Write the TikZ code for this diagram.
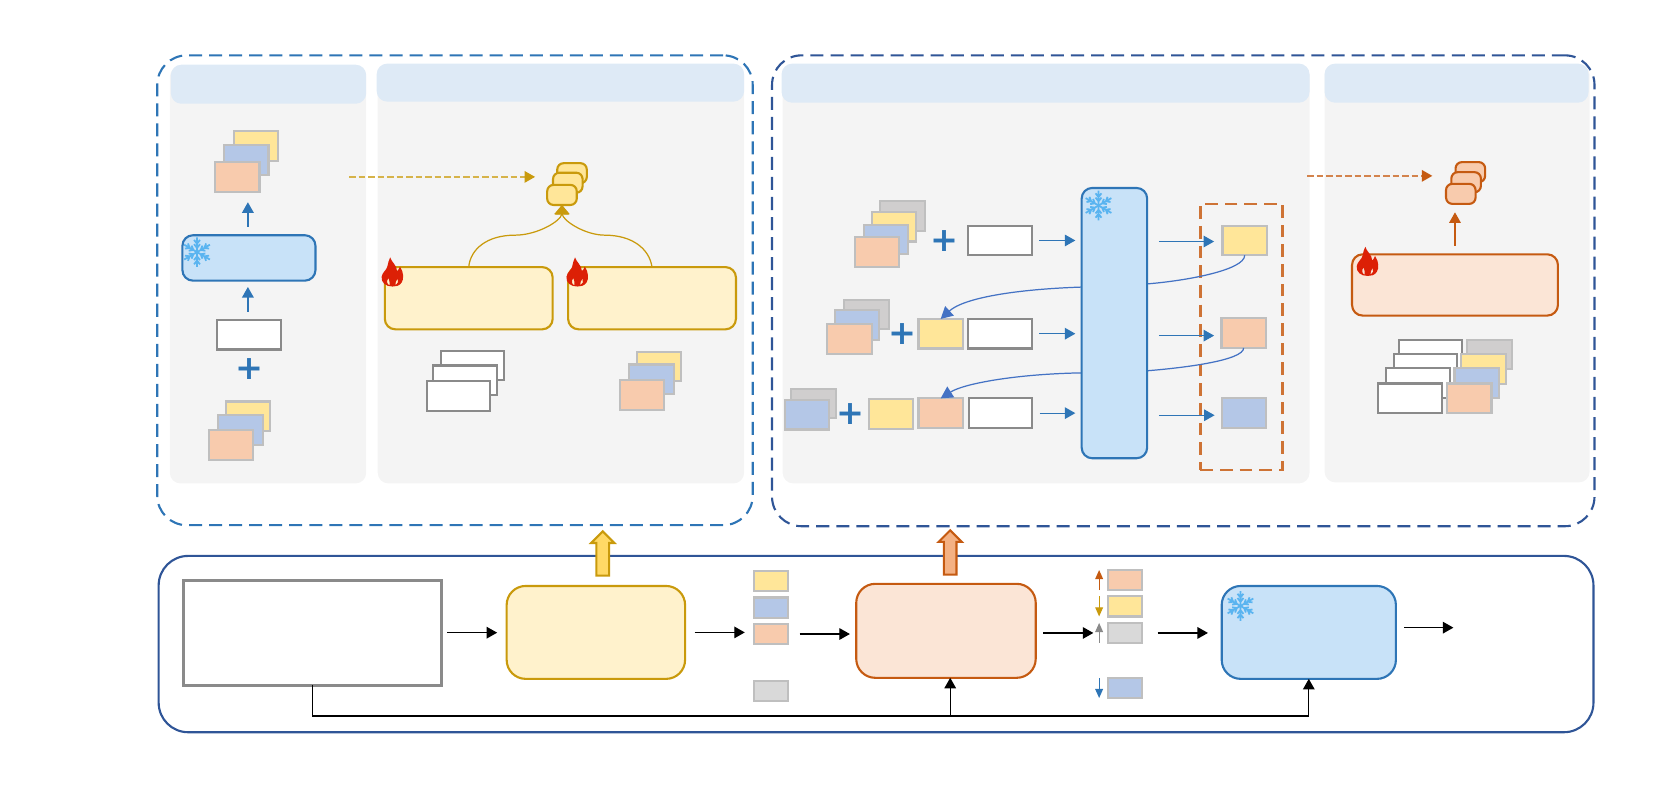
\documentclass[tikz,border=0pt]{standalone}
\usepackage{fontspec}
\newfontfamily\plusfont{DejaVu Sans}
\usetikzlibrary{arrows.meta,shapes.arrows}

\def\pxu{0.3003pt}

\definecolor{cPeach}{HTML}{F8CBAD}
\definecolor{cPeachD}{HTML}{C55A11}
\definecolor{cPeachL}{HTML}{FBE5D6}
\definecolor{cPeachF}{HTML}{F4B183}
\definecolor{cGold}{HTML}{FFE699}
\definecolor{cGoldD}{HTML}{C99A0C}
\definecolor{cGoldL}{HTML}{FFF2CC}
\definecolor{cGoldF}{HTML}{FFD966}
\definecolor{cSlate}{HTML}{B4C7E7}
\definecolor{cStone}{HTML}{D0CECE}
\definecolor{cAsh}{HTML}{D9D9D9}
\definecolor{cEdge}{HTML}{BFBFBF}
\definecolor{cIron}{HTML}{8A8A8A}
\definecolor{cSea}{HTML}{2E75B6}
\definecolor{cNavy}{HTML}{2F5597}
\definecolor{cLink}{HTML}{4472C4}
\definecolor{cIce}{HTML}{C8E2F8}
\definecolor{cFlake}{HTML}{5AB4F0}
\definecolor{cPanel}{HTML}{F4F4F4}
\definecolor{cHead}{HTML}{DEEAF6}
\definecolor{cFire}{HTML}{DC2006}

\tikzset{
    wh/.style 2 args={minimum width=#1*\pxu, minimum height=#2*\pxu},
    snowflake/.pic={
        \foreach \a in {30,90,...,330}
            \draw[cFlake, line width=0.5pt, rotate=\a]
                (0,0) -- (14,0) (4,0) -- +(3.5,2.8) (4,0) -- +(3.5,-2.8)
                (8,0) -- +(3.5,2.8) (8,0) -- +(3.5,-2.8);
    },
    flame/.pic={
        \fill[cFire, even odd rule, scale=1.08] (0,12.5)
            .. controls (-6,12.5) and (-10,9) .. (-9.5,4)
            .. controls (-9,0) and (-5,-2) .. (-4.5,-5)
            .. controls (-4,-8) and (-3,-11) .. (-2,-13)
            .. controls (-1,-9) and (4,-6) .. (4,-1)
            .. controls (5,-2) and (6,-3) .. (6.5,-5)
            .. controls (10,0) and (10,6) .. (8,9)
            .. controls (6,12) and (3,12.5) .. (0,12.5)
            (-2.5,11.5) .. controls (-5,10.5) and (-5.5,7.5) .. (-3.5,5)
            .. controls (-3.5,7) and (-1.5,9) .. (-2.5,11.5)
            (2.5,11.5) .. controls (5,10.5) and (5.5,7.5) .. (4.5,5.5)
            .. controls (4,7.5) and (1.5,9) .. (2.5,11.5);
    }
}

\begin{document}
\begin{tikzpicture}[x=0.010593cm, y=-0.010593cm]
    \tikzstyle{every node}=[inner sep=0pt, outer sep=0pt]
    \tikzstyle{group}=[rectangle, rounded corners=8.4pt, line width=0.6pt, dash pattern=on 3.7pt off 2pt]
    \tikzstyle{panel}=[rectangle, rounded corners=3pt, fill=cPanel]
    \tikzstyle{head}=[rectangle, rounded corners=3pt, fill=cHead]
    \tikzstyle{tile}=[rectangle, draw=cEdge, line width=0.6pt, wh={42}{28}]
    \tikzstyle{tileP}=[tile, fill=cPeach]
    \tikzstyle{tileY}=[tile, fill=cGold]
    \tikzstyle{tileB}=[tile, fill=cSlate]
    \tikzstyle{tileG}=[tile, fill=cStone]
    \tikzstyle{tileW}=[rectangle, draw=cIron, fill=white, line width=0.6pt, wh={60}{28}]
    \tikzstyle{chip}=[rectangle, draw=cEdge, line width=0.6pt, wh={32}{19}]
    \tikzstyle{iceM}=[rectangle, rounded corners=3pt, draw=cSea, fill=cIce, line width=0.6pt]
    \tikzstyle{goldM}=[rectangle, rounded corners=3pt, draw=cGoldD, fill=cGoldL, line width=0.6pt]
    \tikzstyle{fireM}=[rectangle, rounded corners=3pt, draw=cPeachD, fill=cPeachL, line width=0.6pt]
    \tikzstyle{goldT}=[rectangle, rounded corners=1.8pt, draw=cGoldD, fill=cGold, line width=0.6pt, wh={28}{19}]
    \tikzstyle{fireT}=[rectangle, rounded corners=1.8pt, draw=cPeachD, fill=cPeach, line width=0.6pt, wh={28}{19}]
    \tikzstyle{plusmark}=[font=\plusfont\bfseries\fontsize{9.5}{9.5}\selectfont, text=cSea]
    \tikzstyle{fat}=[single arrow, shape border rotate=90, line width=0.6pt, wh={20}{42}, single arrow head extend=1.5pt, single arrow head indent=0pt]
    \tikzstyle{flow}=[black, line width=0.35pt, -{Triangle[length=3pt, width=3.3pt]}]
    \tikzstyle{seaflow}=[cSea, line width=0.35pt, -{Triangle[length=3pt, width=3.3pt]}]

    \useasboundingbox (0,0) rectangle (1568,743);

    \node[group, draw=cSea, wh={564}{445}]  (dashL) at (429.5,274) {};
    \node[group, draw=cNavy, wh={779}{446}] (dashR) at (1117,274.5) {};
    \node[rectangle, rounded corners=8.4pt, draw=cNavy, line width=0.6pt, wh={1359}{167}] (base) at (827,608) {};

    \node[panel, wh={186}{395}] (panA) at (253,259.5) {};
    \node[panel, wh={347}{397}] (panB) at (529.5,258.5) {};
    \node[panel, wh={499}{397}] (panC) at (987.5,258.5) {};
    \node[panel, wh={251}{396}] (panD) at (1375.5,258) {};
    \node[head, wh={185}{37}]   (headA) at (253.5,79.5) {};
    \node[head, wh={348}{36}]   (headB) at (529,78) {};
    \node[head, wh={500}{37}]   (headC) at (987,78.5) {};
    \node[head, wh={250}{37}]   (headD) at (1375,78.5) {};

    \node[tileY] (aY1) at (241.5,138) {};
    \node[tileB] (aB1) at (232.5,151) {};
    \node[tileP] (aP1) at (224,167) {};
    \node[iceM, wh={126}{43}] (iceA) at (235,243.5) {};
    \node[tileW] (aW) at (235,316) {};
    \node[plusmark] (plusA) at (235.5,348.5) {+};
    \node[tileY] (aY2) at (234,393) {};
    \node[tileB] (aB2) at (227,406) {};
    \node[tileP] (aP2) at (218,420) {};
    \pic at (186,238) {snowflake};

    \draw[seaflow, shorten <=8*\pxu, shorten >=10*\pxu] ([xshift=-1*\pxu]iceA.north) -- ([xshift=-1*\pxu]iceA.north |- aP1.south);
    \draw[seaflow, shorten <=8*\pxu, shorten >=6*\pxu] ([xshift=-1*\pxu]aW.north) -- ([xshift=-1*\pxu]aW.north |- iceA.south);

    \node[goldT] (goldA) at (540,163.5) {};
    \node[goldT] (goldB) at (536,172.5) {};
    \node[goldT] (goldC) at (530.5,184) {};
    \node[goldM, wh={159}{59}] (boxA) at (442.5,281.5) {};
    \node[goldM, wh={159}{59}] (boxB) at (615.5,281.5) {};
    \pic at (370.5,257) {flame};
    \pic at (545,257) {flame};

    \node[tileW] (bW1) at (446,345) {};
    \node[tileW] (bW2) at (439,359) {};
    \node[tileW] (bW3) at (433,374) {};
    \node[tileY] (bY) at (622,346) {};
    \node[tileB] (bB) at (615,358) {};
    \node[tileP] (bP) at (606,373) {};

    \draw[cGoldD!75, line width=0.4pt, dash pattern=on 1.9pt off 0.8pt, shorten <=85*\pxu, shorten >=17*\pxu, -{Triangle[length=3pt, width=3.3pt, color=cGoldD]}]
        (aP1.east) -- (aP1.east -| goldB.west);
    \draw[cGoldD, line width=0.35pt, -{Triangle[length=2.7pt, width=4.2pt]}]
        (boxA.north) .. controls (444,235) and (460,222) .. (486,222)
        .. controls (508,222) and (530,208) .. (goldC.south);
    \draw[cGoldD, line width=0.35pt, -{Triangle[length=2.7pt, width=4.2pt]}]
        (boxB.north) .. controls (613,235) and (597,222) .. (571,222)
        .. controls (552,222) and (531,208) .. (goldC.south);

    \node[tileG] (cG1) at (852,204) {};
    \node[tileY] (cY1) at (844,214) {};
    \node[tileB] (cB1) at (836.5,226) {};
    \node[tileP] (cP1) at (828,238) {};
    \node[plusmark] (plusC1) at (891.5,227.5) {+};
    \node[tileW] (cW1) at (944,227) {};

    \node[tileG] (cG2) at (818,297) {};
    \node[tileB] (cB2) at (809,307) {};
    \node[tileP] (cP2) at (802,320) {};
    \node[plusmark] (plusC2) at (851.5,315.5) {+};
    \node[tileY] (cY2) at (888,315) {};
    \node[tileW] (cW2) at (944,315) {};

    \node[tileG] (cG3) at (768,381) {};
    \node[tileB] (cB3) at (762,391.5) {};
    \node[plusmark] (plusC3) at (802.5,390.5) {+};
    \node[tileY] (cY3) at (841,391) {};
    \node[tileP] (cP3) at (888,390) {};
    \node[tileW] (cW3) at (944.5,390) {};

    \node[rectangle, draw=cPeachD!85, line width=0.7pt, dash pattern=on 3.6pt off 2pt, wh={78}{252}] (outBox) at (1172,318) {};
    \node[tileY] (oY) at (1175,227) {};
    \node[tileP] (oP) at (1174,314.5) {};
    \node[tileB] (oB) at (1174.5,390) {};

    \draw[cLink, line width=0.35pt, -{Triangle[length=3.4pt, width=3.6pt]}]
        (oY.south) .. controls (1175,255) and (1120,265) .. (1083,268) -- (1021,271)
        .. controls (960,273) and (910,281) .. (cY2.north);
    \draw[cLink, line width=0.35pt, -{Triangle[length=3.4pt, width=3.6pt]}]
        (oP.south) .. controls (1174,340) and (1120,347) .. (1083,350) -- (1021,352)
        .. controls (960,353) and (910,362) .. (cP3.north);

    \node[iceM, wh={62}{256}] (iceC) at (1052,305) {};
    \pic at (1037,194) {snowflake};

    \draw[seaflow, shorten <=7*\pxu, shorten >=6*\pxu] (cW1.east) -- (cW1.east -| iceC.west);
    \draw[seaflow, shorten <=7*\pxu, shorten >=6*\pxu] (cW2.east) -- (cW2.east -| iceC.west);
    \draw[seaflow, shorten <=7*\pxu, shorten >=6*\pxu] (cW3.east) -- (cW3.east -| iceC.west);
    \draw[seaflow, shorten <=11*\pxu, shorten >=8*\pxu] ([yshift=-0.3pt]oY.west -| iceC.east) -- ([yshift=-0.3pt]oY.west);
    \draw[seaflow, shorten <=11*\pxu, shorten >=7*\pxu] ([yshift=-0.7pt]oP.west -| iceC.east) -- ([yshift=-0.7pt]oP.west);
    \draw[seaflow, shorten <=11*\pxu, shorten >=7*\pxu] ([yshift=-0.6pt]oB.west -| iceC.east) -- ([yshift=-0.6pt]oB.west);

    \node[fireT] (fireA) at (1388,162.5) {};
    \node[fireT] (fireB) at (1384,172) {};
    \node[fireT] (fireC) at (1379,183) {};
    \node[fireM, wh={195}{58}] (fireBox) at (1373.5,269) {};
    \pic at (1291,247) {flame};

    \node[tileW] (dW1) at (1350.5,334.5) {};
    \node[tileW] (dW2) at (1345.5,348.5) {};
    \node[tileW] (dW3) at (1338.5,361.5) {};
    \node[tileW] (dW4) at (1331,376) {};
    \node[tileG] (dG) at (1406,334.5) {};
    \node[tileY] (dY) at (1400.5,348.5) {};
    \node[tileB] (dB) at (1394,361.5) {};
    \node[tileP] (dP) at (1387,376) {};

    \coordinate (fireFrom) at (1234,166);
    \draw[cPeachD!75, line width=0.4pt, dash pattern=on 1.9pt off 0.8pt, shorten >=18*\pxu, -{Triangle[length=3pt, width=3.3pt, color=cPeachD]}]
        (fireFrom) -- (fireFrom -| fireB.west);
    \draw[cPeachD, line width=0.35pt, -{Triangle[length=3pt, width=3.3pt]}, shorten <=8*\pxu, shorten >=8*\pxu]
        (fireBox.north) -- (fireBox.north |- fireC.south);

    \node[rectangle, draw=cIron, line width=0.9pt, fill=white, wh={245}{99.5}] (inp) at (295,597.25) {};
    \node[goldM, rounded corners=5.4pt, wh={169}{88}] (goldS) at (562.5,597) {};
    \node[fireM, rounded corners=5.4pt, wh={170}{89}] (fireS) at (893,595.5) {};
    \node[iceM, rounded corners=5.4pt, wh={165}{88}] (iceS) at (1235.5,597) {};
    \pic at (1171,572) {snowflake};

    \node[fat, draw=cGoldD, fill=cGoldF] (fatY) at (569,525.5) {\rule{3pt}{0pt}};
    \node[fat, draw=cPeachD, fill=cPeachF] (fatO) at (897,524.5) {\rule{3pt}{0pt}};

    \node[chip, fill=cGold]  (sY) at (728,548.5) {};
    \node[chip, fill=cSlate] (sB) at (728,573.5) {};
    \node[chip, fill=cPeach] (sP) at (728,598.5) {};
    \node[chip, fill=cAsh]   (sG) at (728,652.5) {};

    \node[chip, fill=cPeach] (rP) at (1062,547.5) {};
    \node[chip, fill=cGold]  (rY) at (1062,572.5) {};
    \node[chip, fill=cAsh]   (rG) at (1062,597.5) {};
    \node[chip, fill=cSlate] (rB) at (1062,649.5) {};

    \draw[flow, shorten <=5*\pxu, shorten >=9*\pxu] (inp.east) -- (inp.east -| goldS.west);
    \draw[flow, shorten <=9*\pxu, shorten >=9*\pxu] (goldS.east) -- (goldS.east -| sP.west);
    \draw[flow, shorten <=11*\pxu, shorten >=6*\pxu] (sP.east) -- (sP.east -| fireS.west);
    \draw[flow, shorten <=7*\pxu, shorten >=14*\pxu] (rG.west -| fireS.east) -- (rG.west);
    \draw[flow, shorten <=15*\pxu, shorten >=13*\pxu] (rG.east) -- (rG.east -| iceS.west);

    \coordinate (outEnd) at (1372,592.5);
    \draw[flow, shorten <=8*\pxu] (outEnd -| iceS.east) -- (outEnd);

    \coordinate (trunk) at (897,676);
    \draw[flow] (inp.south) -- (inp.south |- trunk) -- (trunk -| iceS.south) -- (iceS.south);
    \draw[flow] (trunk) -- (trunk |- fireS.south);

    \draw[cPeachD, line width=0.35pt, -{Triangle[length=2.6pt, width=2.2pt]}] ([xshift=-8.5*\pxu]rP.south west) -- ([xshift=-8.5*\pxu]rP.north west);
    \draw[cGoldD, line width=0.35pt, -{Triangle[length=2.6pt, width=2.2pt]}] ([xshift=-8.5*\pxu]rY.north west) -- ([xshift=-8.5*\pxu]rY.south west);
    \draw[cIron, line width=0.35pt, -{Triangle[length=2.6pt, width=2.2pt]}] ([xshift=-8.5*\pxu]rG.south west) -- ([xshift=-8.5*\pxu]rG.north west);
    \draw[cSea, line width=0.35pt, -{Triangle[length=2.6pt, width=2.2pt]}] ([xshift=-8.5*\pxu]rB.north west) -- ([xshift=-8.5*\pxu]rB.south west);
\end{tikzpicture}
\end{document}
